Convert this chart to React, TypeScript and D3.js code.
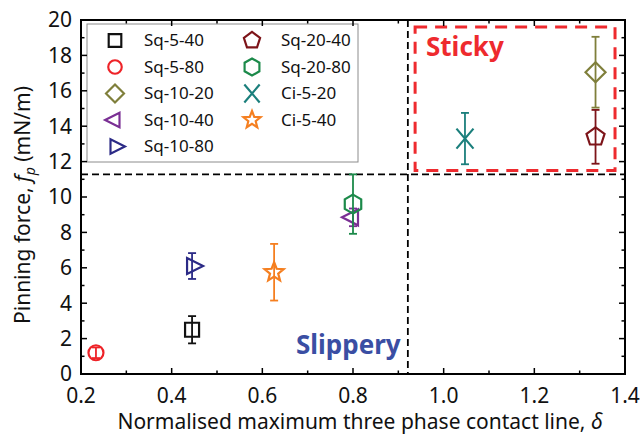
import React from 'react';
import * as d3 from 'd3';

// Series
const names = ['Sq-5-40', 'Sq-5-80', 'Sq-10-20', 'Sq-10-40', 'Sq-10-80', 'Sq-20-40', 'Sq-20-80', 'Ci-5-20', 'Ci-5-40'];
const deltas = [0.445, 0.233, 1.335, 0.80, 0.445, 1.335, 0.80, 1.047, 0.626];
const forces = [2.5, 1.2, 17.05, 8.85, 6.1, 13.4, 9.6, 13.3, 5.75];
const errors = [0.77, 0.3, 2.0, 0.5, 0.73, 1.52, 1.68, 1.45, 1.6];
const colors = ['#111111', '#ee2328', '#7f7f3b', '#7a2f94', '#2b2a86', '#7d1419', '#1c8a4a', '#1b7f7c', '#f57f20'];
const shapes = ['square', 'circle', 'diamond', 'ltri', 'rtri', 'pentagon', 'hexagon', 'cross', 'star'];

const xTicks = [0.2, 0.4, 0.6, 0.8, 1.0, 1.2, 1.4];
const yTicks = [0, 2, 4, 6, 8, 10, 12, 14, 16, 18, 20];

// region boundaries
const deltaCut = 0.921;
const forceCut = 11.28;
const stickyBox = { x0: 0.937, x1: 1.378, y0: 11.5, y1: 19.6 };

const W = 640;
const H = 435;
const margin = { top: 20, right: 15, bottom: 61, left: 81 };
const font = '"Noto Sans", "Open Sans", sans-serif';

function poly(n: number, r: number, rot: number) {
  const pts = d3.range(n).map(i => {
    const a = rot + (i * 2 * Math.PI) / n;
    return [r * Math.cos(a), r * Math.sin(a)];
  });
  return 'M' + pts.map(p => p.join(',')).join('L') + 'Z';
}

function markerPath(shape: string) {
  switch (shape) {
    case 'square':
      return 'M-7,-7H7V7H-7Z';
    case 'circle':
      return d3.arc()({ innerRadius: 0, outerRadius: 7.5, startAngle: 0, endAngle: 2 * Math.PI } as any) || '';
    case 'diamond':
      return 'M0,-10L10,0L0,10L-10,0Z';
    case 'ltri':
      return 'M-11,0L5,-8L5,8Z';
    case 'rtri':
      return 'M11,0L-5,-8L-5,8Z';
    case 'pentagon':
      return poly(5, 9.5, -Math.PI / 2);
    case 'hexagon':
      return poly(6, 9.5, -Math.PI / 2);
    case 'cross':
      return 'M-8.5,-10L8.5,10M8.5,-10L-8.5,10';
    case 'star': {
      const pts = d3.range(10).map(i => {
        const a = -Math.PI / 2 + (i * Math.PI) / 5;
        const r = i % 2 === 0 ? 10 : 4.3;
        return [r * Math.cos(a), r * Math.sin(a)];
      });
      return 'M' + pts.map(p => p.join(',')).join('L') + 'Z';
    }
  }
  return '';
}

export default function App() {
  const x = d3.scaleLinear().domain([0.2, 1.4]).range([margin.left, W - margin.right]);
  const y = d3.scaleLinear().domain([0, 20]).range([H - margin.bottom, margin.top]);
  const [x0, x1] = x.range();
  const [yb, yt] = y.range();

  const xMinor = d3.range(0.3, 1.4, 0.2);
  const yMinor = d3.range(1, 20, 2);

  const legendRows = names.map((n, i) => ({
    name: n,
    col: i < 5 ? 0 : 1,
    row: i < 5 ? i : i - 5,
    color: colors[i],
    shape: shapes[i],
  }));

  return (
    <svg width={W} height={H} style={{ position: 'fixed', left: 0, top: 0, background: 'white' }} fontFamily={font}>
      {/* region dividers */}
      <line x1={x0} x2={x1} y1={y(forceCut)} y2={y(forceCut)} stroke="#000" strokeWidth={1.8} strokeDasharray="7,4" />
      <line x1={x(deltaCut)} x2={x(deltaCut)} y1={yt} y2={yb} stroke="#000" strokeWidth={1.8} strokeDasharray="7,4" />
      <rect
        x={x(stickyBox.x0)}
        y={y(stickyBox.y1)}
        width={x(stickyBox.x1) - x(stickyBox.x0)}
        height={y(stickyBox.y0) - y(stickyBox.y1)}
        fill="none"
        stroke="#ee2a2e"
        strokeWidth={3}
        strokeDasharray="12,8"
      />

      {/* legend */}
      <rect x={87} y={24} width={271} height={138} fill="white" stroke="#8c8c8c" strokeWidth={1} />
      {legendRows.map(d => (
        <g key={d.name} transform={`translate(${d.col === 0 ? 115 : 252},${40.5 + d.row * 26.5})`}>
          <g transform="scale(0.9)">
            <path d={markerPath(d.shape)} fill="none" stroke={d.color} strokeWidth={2.4} />
          </g>
          <text x={29} y={0} dy="0.35em" fontSize={17} fill="#111">
            {d.name}
          </text>
        </g>
      ))}

      {/* points with error bars */}
      {names.map((n, i) => {
        const cx = x(deltas[i]);
        const top = y(forces[i] + errors[i]);
        const bot = y(forces[i] - errors[i]);
        return (
          <g key={n} stroke={colors[i]} strokeWidth={1.8}>
            <line x1={cx} x2={cx} y1={top} y2={bot} />
            <line x1={cx - 4} x2={cx + 4} y1={top} y2={top} />
            <line x1={cx - 4} x2={cx + 4} y1={bot} y2={bot} />
            <g transform={`translate(${cx},${y(forces[i])})`}>
              <path d={markerPath(shapes[i])} fill="none" stroke={colors[i]} strokeWidth={2.2} />
            </g>
          </g>
        );
      })}

      {/* region labels */}
      <text x={426} y={56} fontSize={26} fontWeight="bold" fill="#ee2a2e">Sticky</text>
      <text x={296} y={354} fontSize={26} fontWeight="bold" fill="#3a4ea3">Slippery</text>

      {/* frame and ticks */}
      <rect x={x0} y={yt} width={x1 - x0} height={yb - yt} fill="none" stroke="#000" strokeWidth={2} />
      {xTicks.map(t => (
        <g key={'xt' + t} stroke="#000" strokeWidth={1.5}>
          <line x1={x(t)} x2={x(t)} y1={yb} y2={yb - 6} />
          <line x1={x(t)} x2={x(t)} y1={yt} y2={yt + 6} />
        </g>
      ))}
      {xMinor.map(t => (
        <g key={'xm' + t} stroke="#000" strokeWidth={1.5}>
          <line x1={x(t)} x2={x(t)} y1={yb} y2={yb - 3.5} />
          <line x1={x(t)} x2={x(t)} y1={yt} y2={yt + 3.5} />
        </g>
      ))}
      {yTicks.map(t => (
        <g key={'yt' + t} stroke="#000" strokeWidth={1.5}>
          <line x1={x0} x2={x0 + 6} y1={y(t)} y2={y(t)} />
          <line x1={x1} x2={x1 - 6} y1={y(t)} y2={y(t)} />
        </g>
      ))}
      {yMinor.map(t => (
        <g key={'ym' + t} stroke="#000" strokeWidth={1.5}>
          <line x1={x0} x2={x0 + 3.5} y1={y(t)} y2={y(t)} />
          <line x1={x1} x2={x1 - 3.5} y1={y(t)} y2={y(t)} />
        </g>
      ))}

      {/* tick labels */}
      {xTicks.map(t => (
        <text key={'xl' + t} x={x(t)} y={403} textAnchor="middle" fontSize={21} fill="#111">
          {d3.format('.1f')(t)}
        </text>
      ))}
      {yTicks.map(t => (
        <text key={'yl' + t} x={72} y={y(t)} dy="0.35em" textAnchor="end" fontSize={21} fill="#111">
          {t}
        </text>
      ))}

      {/* axis titles */}
      <text x={360} y={429} textAnchor="middle" fontSize={21} fill="#111">
        Normalised maximum three phase contact line, <tspan fontStyle="italic">δ</tspan>
      </text>
      <text transform={`translate(30,${(yt + yb) / 2 + 8}) rotate(-90)`} textAnchor="middle" fontSize={21} fill="#111">
        Pinning force, <tspan fontStyle="italic">f</tspan>
        <tspan fontStyle="italic" fontSize={14} dy={5}>p</tspan>
        <tspan dy={-5}> (mN/m)</tspan>
      </text>
    </svg>
  );
}
